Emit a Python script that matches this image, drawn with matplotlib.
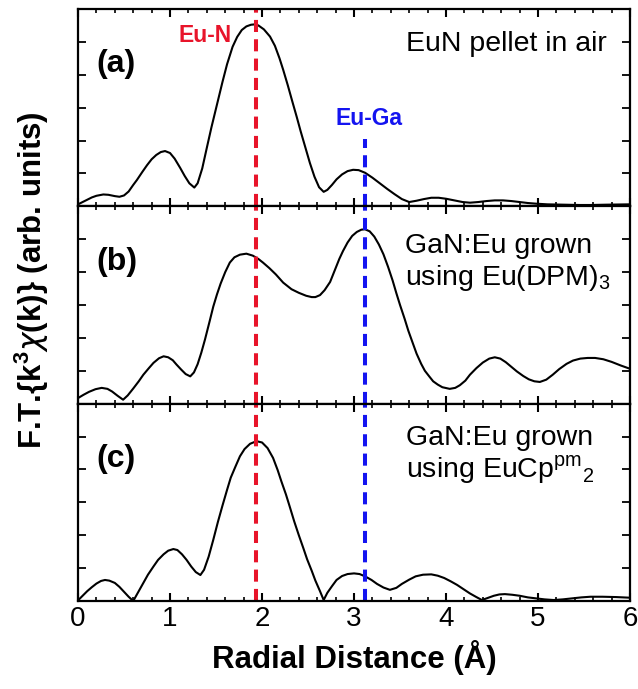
import matplotlib
matplotlib.use("Agg")
from matplotlib import pyplot as plt
from matplotlib.ticker import MultipleLocator

# values (R in angstrom, magnitude in arb. units)
# (a) EuN pellet in air
r_a = [0.00, 0.05, 0.10, 0.15, 0.20, 0.275, 0.33, 0.40, 0.45, 0.50, 0.55, 0.60, 0.64, 0.70,
       0.75, 0.80, 0.85, 0.90, 0.946, 1.00, 1.05, 1.11, 1.16, 1.21, 1.264, 1.30, 1.35, 1.40,
       1.45, 1.51, 1.57, 1.62, 1.68, 1.73, 1.78, 1.83, 1.88, 1.917, 1.96, 2.02, 2.087, 2.14,
       2.19, 2.23, 2.28, 2.33, 2.377, 2.42, 2.47, 2.52, 2.57, 2.62, 2.67, 2.71, 2.76, 2.81,
       2.87, 2.93, 2.99, 3.05, 3.12, 3.20, 3.28, 3.36, 3.44, 3.52, 3.60, 3.68, 3.76, 3.84,
       3.92, 4.00, 4.09, 4.18, 4.26, 4.35, 4.44, 4.53, 4.62, 4.71, 4.80, 4.89, 4.98, 5.10,
       5.27, 5.45, 5.57, 5.75, 6.00]
a = [0.06, 0.13, 0.20, 0.27, 0.32, 0.36, 0.35, 0.31, 0.29, 0.33, 0.45, 0.65, 0.80, 1.05,
     1.25, 1.43, 1.56, 1.65, 1.68, 1.62, 1.45, 1.17, 0.92, 0.70, 0.57, 0.70, 1.15, 1.78,
     2.40, 3.09, 3.78, 4.32, 4.85, 5.15, 5.36, 5.47, 5.52, 5.53, 5.50, 5.38, 5.16, 4.88,
     4.50, 4.15, 3.68, 3.18, 2.72, 2.28, 1.80, 1.32, 0.90, 0.58, 0.44, 0.50, 0.65, 0.82,
     0.97, 1.07, 1.11, 1.10, 1.02, 0.87, 0.70, 0.53, 0.37, 0.22, 0.13, 0.17, 0.22, 0.26,
     0.26, 0.23, 0.18, 0.13, 0.11, 0.13, 0.16, 0.18, 0.18, 0.16, 0.13, 0.10, 0.08, 0.06,
     0.05, 0.04, 0.04, 0.05, 0.06]

# (b) GaN:Eu grown using Eu(DPM)3
r_b = [0.00, 0.06, 0.12, 0.19, 0.257, 0.32, 0.37, 0.43, 0.49, 0.54, 0.60, 0.66, 0.71, 0.77,
       0.82, 0.88, 0.93, 0.98, 1.03, 1.07, 1.12, 1.17, 1.22, 1.26, 1.30, 1.34, 1.38, 1.43,
       1.47, 1.51, 1.55, 1.60, 1.65, 1.70, 1.76, 1.83, 1.90, 1.96, 2.01, 2.08, 2.15, 2.23,
       2.32, 2.40, 2.48, 2.54, 2.58, 2.63, 2.68, 2.74, 2.79, 2.84, 2.88, 2.93, 2.98, 3.03,
       3.08, 3.12, 3.17, 3.22, 3.27, 3.32, 3.37, 3.42, 3.46, 3.50, 3.55, 3.59, 3.64, 3.68,
       3.73, 3.77, 3.82, 3.86, 3.91, 3.96, 4.04, 4.10, 4.15, 4.21, 4.26, 4.33, 4.40, 4.47,
       4.53, 4.59, 4.65, 4.71, 4.77, 4.84, 4.90, 4.96, 5.02, 5.09, 5.16, 5.23, 5.31, 5.38,
       5.46, 5.54, 5.62, 5.71, 5.80, 5.90, 6.00]
b = [0.17, 0.27, 0.36, 0.44, 0.48, 0.45, 0.37, 0.24, 0.12, 0.25, 0.46, 0.68, 0.88, 1.08,
     1.24, 1.38, 1.44, 1.41, 1.32, 1.19, 1.04, 0.90, 0.83, 0.95, 1.20, 1.55, 1.95, 2.50,
     2.95, 3.32, 3.65, 4.00, 4.29, 4.45, 4.53, 4.56, 4.50, 4.40, 4.29, 4.12, 3.93, 3.68,
     3.48, 3.37, 3.28, 3.24, 3.24, 3.30, 3.45, 3.70, 4.05, 4.40, 4.64, 4.90, 5.10, 5.22,
     5.29, 5.30, 5.24, 5.08, 4.84, 4.54, 4.16, 3.74, 3.36, 3.00, 2.58, 2.22, 1.83, 1.52,
     1.21, 1.00, 0.82, 0.68, 0.58, 0.50, 0.45, 0.48, 0.56, 0.70, 0.88, 1.08, 1.25, 1.37,
     1.41, 1.37, 1.26, 1.12, 0.98, 0.84, 0.74, 0.68, 0.66, 0.73, 0.88, 1.05, 1.21, 1.31,
     1.37, 1.39, 1.39, 1.35, 1.27, 1.16, 1.06]

# (c) GaN:Eu grown using EuCp^pm_2
r_c = [0.00, 0.05, 0.10, 0.15, 0.20, 0.25, 0.293, 0.34, 0.40, 0.45, 0.50, 0.55, 0.60, 0.65,
       0.71, 0.76, 0.82, 0.87, 0.93, 0.98, 1.036, 1.08, 1.13, 1.18, 1.23, 1.28, 1.33, 1.37,
       1.42, 1.47, 1.52, 1.57, 1.62, 1.66, 1.71, 1.76, 1.81, 1.87, 1.94, 2.00, 2.06, 2.12,
       2.17, 2.21, 2.26, 2.30, 2.35, 2.40, 2.45, 2.49, 2.54, 2.58, 2.63, 2.67, 2.71, 2.76,
       2.81, 2.87, 2.93, 3.00, 3.06, 3.12, 3.19, 3.25, 3.32, 3.39, 3.46, 3.52, 3.60, 3.67,
       3.75, 3.84, 3.91, 3.98, 4.05, 4.12, 4.19, 4.26, 4.33, 4.39, 4.45, 4.52, 4.58, 4.64,
       4.72, 4.80, 4.89, 4.98, 5.07, 5.17, 5.27, 5.37, 5.47, 5.57, 5.70, 5.85, 6.00]
c = [0.02, 0.16, 0.30, 0.42, 0.53, 0.61, 0.64, 0.62, 0.55, 0.43, 0.28, 0.13, 0.00, 0.25,
     0.55, 0.80, 1.05, 1.25, 1.42, 1.53, 1.58, 1.55, 1.42, 1.25, 1.05, 0.88, 0.79, 0.95,
     1.35, 1.86, 2.40, 2.90, 3.38, 3.75, 4.08, 4.40, 4.62, 4.78, 4.86, 4.82, 4.65, 4.35,
     3.98, 3.64, 3.24, 2.88, 2.42, 2.00, 1.60, 1.27, 0.92, 0.62, 0.30, 0.03, 0.25, 0.45,
     0.64, 0.76, 0.82, 0.84, 0.82, 0.75, 0.64, 0.52, 0.41, 0.34, 0.40, 0.52, 0.65, 0.75,
     0.80, 0.81, 0.77, 0.70, 0.60, 0.49, 0.36, 0.23, 0.12, 0.03, 0.09, 0.16, 0.20, 0.21,
     0.19, 0.16, 0.11, 0.08, 0.05, 0.03, 0.05, 0.08, 0.11, 0.13, 0.13, 0.12, 0.10]

r_eun = 1.935
r_euga = 3.12

plt.rcParams['font.family'] = ['Liberation Sans', 'DejaVu Sans']
plt.rcParams['mathtext.fontset'] = 'custom'
plt.rcParams['mathtext.rm'] = 'Liberation Sans'
plt.rcParams['mathtext.bf'] = 'Liberation Sans:bold'

red = '#e8142a'
blue = '#1414f0'

fig, axes = plt.subplots(3, 1, figsize=(6.38, 6.89), dpi=100, sharex=True)
fig.subplots_adjust(left=0.1223, right=0.9875, top=0.987, bottom=0.1277, hspace=0)

for ax, r, y in zip(axes, [r_a, r_b, r_c], [a, b, c]):
    ax.plot(r, y, color='black', lw=1.5)
    ax.set_xlim(0, 6)
    ax.set_ylim(0, 6)
    ax.xaxis.set_major_locator(MultipleLocator(1))
    ax.xaxis.set_minor_locator(MultipleLocator(0.2))
    ax.yaxis.set_major_locator(MultipleLocator(1))
    ax.tick_params(axis='x', which='major', direction='in', top=True, length=6, width=1.5)
    ax.tick_params(axis='x', which='minor', direction='in', top=True, length=3, width=1.2)
    ax.tick_params(axis='y', which='major', direction='in', right=True, length=6, width=1.3,
                   labelleft=False)
    ax.tick_params(axis='x', labelsize=20)
    for s in ax.spines.values():
        s.set_linewidth(1.6)
    ax.axvline(r_eun, color=red, lw=2.9, dashes=(3, 1.8))

axes[0].axvline(r_euga, ymax=0.34, color=blue, lw=2.9, dashes=(3, 1.8))
axes[1].axvline(r_euga, color=blue, lw=2.9, dashes=(3, 1.8))
axes[2].axvline(r_euga, color=blue, lw=2.9, dashes=(3, 1.8))

for ax, lab in zip(axes, ['(a)', '(b)', '(c)']):
    ax.text(0.033, 0.72, lab, transform=ax.transAxes, fontsize=23, fontweight='bold',
            ha='left', va='center')

axes[0].text(1.386, 5.2, 'Eu-N', color=red, fontsize=16.5, fontweight='bold',
             ha='center', va='center')
axes[0].text(3.16, 2.67, 'Eu-Ga', color=blue, fontsize=16.5, fontweight='bold',
             ha='center', va='center')

axes[0].text(0.957, 0.822, 'EuN pellet in air', transform=axes[0].transAxes, fontsize=20.5,
             ha='right', va='center')
axes[1].text(0.592, 0.80, 'GaN:Eu grown', transform=axes[1].transAxes, fontsize=20.5,
             ha='left', va='center')
axes[1].text(0.592, 0.635, 'using Eu(DPM)$_3$', transform=axes[1].transAxes, fontsize=20.5,
             ha='left', va='center')
axes[2].text(0.594, 0.827, 'GaN:Eu grown', transform=axes[2].transAxes, fontsize=20.5,
             ha='left', va='center')
axes[2].text(0.594, 0.665, 'using EuCp$^{\\mathrm{pm}}{}_{2}$', transform=axes[2].transAxes,
             fontsize=20.5, ha='left', va='center')

axes[2].set_xlabel('Radial Distance (Å)', fontsize=22.5, fontweight='bold', labelpad=6)
fig.text(0.05, 0.594, r'F.T.{k$^\mathbf{3}\chi$(k)} (arb. units)', rotation=90,
         fontsize=22.5, fontweight='bold', ha='center', va='center')

fig.savefig('out.png', dpi=100)
